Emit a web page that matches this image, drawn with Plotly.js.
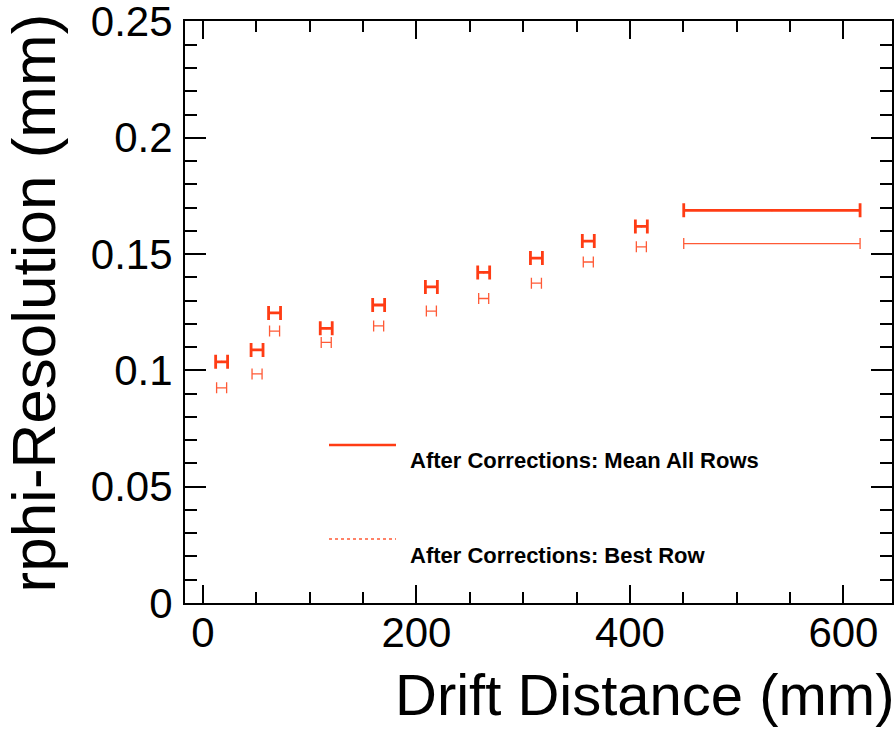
<!DOCTYPE html>
<html>
<head>
<meta charset="utf-8">
<script src="https://cdn.plot.ly/plotly-3.0.1.min.js"></script>
<style>
  html, body { margin: 0; padding: 0; background: #ffffff; }
  #chart { width: 895px; height: 732px; }
</style>
</head>
<body>
<div id="chart"></div>
<script>
// Drift distance (mm) bin centres and half-widths
const driftDistance = [17.5, 50.7, 67.1, 115.5, 164.6, 214.0, 263.0, 312.4, 361.0, 410.7, 533.0];
const meanXErr      = [5.6, 5.6, 5.6, 5.6, 5.6, 5.6, 5.6, 5.6, 5.6, 5.6, 82.6];
const bestXErr      = [4.7, 4.7, 4.7, 4.7, 4.7, 4.7, 4.7, 4.7, 4.7, 4.7, 82.6];
// rphi resolution (mm)
const meanAllRows   = [0.1037, 0.1088, 0.1247, 0.1181, 0.1281, 0.1359, 0.1421, 0.1483, 0.1556, 0.1619, 0.1688];
const bestRow       = [0.0925, 0.0985, 0.1169, 0.1120, 0.1191, 0.1255, 0.1309, 0.1375, 0.1466, 0.1531, 0.1545];

const legendLabels = ["After Corrections: Mean All Rows", "After Corrections: Best Row"];
const xTitle = "Drift Distance (mm)";
const yTitle = "rphi-Resolution (mm)";
const yTickVals = [0, 0.05, 0.1, 0.15, 0.2, 0.25];
const yTickText = ['0', '0.05', '0.1', '0.15', '0.2', '0.25'];

const RED = '#ff3c14';
const RED2 = '#ff5a36';
const FONT = '"Liberation Sans", Arial, Helvetica, sans-serif';

const traces = [
  {
    x: driftDistance, y: meanAllRows, type: 'scatter', mode: 'markers',
    name: legendLabels[0],
    marker: { size: 2, color: RED },
    error_x: { type: 'data', array: meanXErr, visible: true, color: RED, thickness: 2.8, width: 7 },
    showlegend: false, hoverinfo: 'x+y'
  },
  {
    x: driftDistance, y: bestRow, type: 'scatter', mode: 'markers',
    name: legendLabels[1],
    marker: { size: 4, color: 'rgba(0,0,0,0)', symbol: 'circle-open', line: { color: RED2, width: 1 } },
    error_x: { type: 'data', array: bestXErr, visible: true, color: RED2, thickness: 1.3, width: 5.5 },
    showlegend: false, hoverinfo: 'x+y'
  }
];

const plotW = 707, plotH = 582, L = 185, T = 21;
function px(p) { return (p - L) / plotW; }
function py(p) { return (T + plotH - p) / plotH; }

const layout = {
  width: 895, height: 732,
  margin: { l: 185, r: 3, t: 21, b: 129, pad: 0 },
  paper_bgcolor: '#ffffff', plot_bgcolor: '#ffffff',
  showlegend: false,
  font: { family: FONT, color: '#000000' },
  xaxis: {
    range: [-16.8, 645.5], showgrid: false, zeroline: false,
    showline: true, linecolor: '#000', linewidth: 2, mirror: 'allticks',
    ticks: 'inside', ticklen: 18, tickwidth: 2, tickcolor: '#000',
    tick0: 0, dtick: 200,
    minor: { dtick: 50, ticks: 'inside', ticklen: 11, tickwidth: 2, tickcolor: '#000', showgrid: false },
    tickfont: { family: FONT, size: 42, color: '#000' },
    ticklabelstandoff: -8,
    ticklabeloverflow: 'allow'
  },
  yaxis: {
    range: [0, 0.2502], showgrid: false, zeroline: false,
    showline: true, linecolor: '#000', linewidth: 2, mirror: 'allticks',
    ticks: 'inside', ticklen: 21, tickwidth: 2, tickcolor: '#000',
    tickmode: 'array', tickvals: yTickVals, ticktext: yTickText,
    minor: { tickmode: 'linear', tick0: 0, dtick: 0.01, ticks: 'inside', ticklen: 12, tickwidth: 2, tickcolor: '#000', showgrid: false },
    tickfont: { family: FONT, size: 42, color: '#000' },
    ticklabelstandoff: 2,
    ticklabeloverflow: 'allow'
  },
  shapes: [
    { type: 'line', xref: 'paper', yref: 'paper', x0: px(329), x1: px(396), y0: py(445), y1: py(445),
      line: { color: RED, width: 2.5 } },
    { type: 'line', xref: 'paper', yref: 'paper', x0: px(329), x1: px(396), y0: py(539), y1: py(539),
      line: { color: RED2, width: 1.5, dash: 'dot' } }
  ],
  annotations: [
    { text: legendLabels[0], xref: 'paper', yref: 'paper', x: px(408), y: py(460), xanchor: 'left', yanchor: 'middle',
      showarrow: false, font: { family: FONT, size: 22, color: '#000', weight: 'bold' } },
    { text: legendLabels[1], xref: 'paper', yref: 'paper', x: px(408), y: py(555), xanchor: 'left', yanchor: 'middle',
      showarrow: false, font: { family: FONT, size: 22, color: '#000', weight: 'bold' } },
    { text: xTitle, xref: 'paper', yref: 'paper', x: px(896), y: py(695), xanchor: 'right', yanchor: 'middle',
      showarrow: false, font: { family: FONT, size: 58, color: '#000' } },
    { text: yTitle, xref: 'paper', yref: 'paper', x: px(33), y: py(12), xanchor: 'center', yanchor: 'top',
      textangle: -90, showarrow: false, font: { family: FONT, size: 62, color: '#000' } }
  ]
};

Plotly.newPlot('chart', traces, layout, { staticPlot: true, displayModeBar: false });
</script>
</body>
</html>
